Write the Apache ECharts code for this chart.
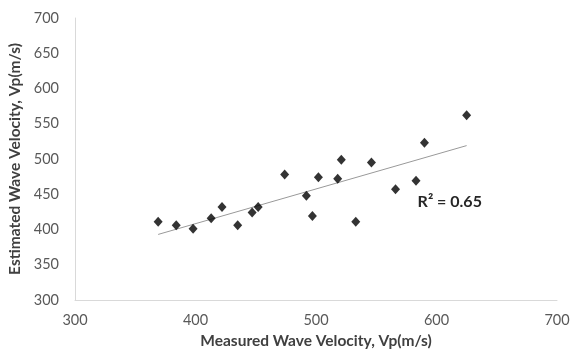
<!DOCTYPE html>
<html><head><meta charset="utf-8">
<script src="https://cdn.jsdelivr.net/npm/echarts@6/dist/echarts.min.js"></script>
<style>html,body{margin:0;padding:0;background:#fff}#c{width:576px;height:349px}</style>
</head><body><div id="c"></div>
<script>
const measured = [369, 384, 398, 413, 422, 435, 447, 452, 474, 492, 497, 502, 518, 521, 533, 546, 566, 583, 590, 625];
const estimated = [411, 406, 401, 416, 432, 406, 424, 432, 478, 448, 419, 474, 472, 499, 411, 495, 457, 469, 523, 562];
const trendX = [369, 625];
const trendY = [393, 519];
const xTicks = [300, 400, 500, 600, 700];
const yTicks = [300, 350, 400, 450, 500, 550, 600, 650, 700];
const r2Label = 'R² = 0.65';
const r2Pos = [611, 439];
const xTitle = 'Measured Wave Velocity, Vp(m/s)';
const yTitle = 'Estimated Wave Velocity, Vp(m/s)';

const chart = echarts.init(document.getElementById('c'), null, {renderer: 'canvas'});
const font = 'Lato, "Open Sans", sans-serif';
chart.setOption({
  animation: false,
  grid: {left: 75, right: 19, top: 18, bottom: 49, containLabel: false, outerBoundsMode: 'none'},
  xAxis: {
    type: 'value', min: xTicks[0], max: xTicks[xTicks.length-1], interval: 100,
    axisLine: {show: true, lineStyle: {color: '#d9d9d9', width: 1}},
    axisTick: {show: false}, splitLine: {show: false},
    axisLabel: {color: '#595959', fontSize: 14.5, fontFamily: font, margin: 13},
    name: xTitle, nameLocation: 'middle', nameGap: 32,
    nameTextStyle: {color: '#404040', fontSize: 15.5, fontWeight: 'bold', fontFamily: font}
  },
  yAxis: {
    type: 'value', min: yTicks[0], max: yTicks[yTicks.length-1], interval: 50,
    axisLine: {show: true, lineStyle: {color: '#d9d9d9', width: 1}},
    axisTick: {show: false}, splitLine: {show: false},
    axisLabel: {color: '#595959', fontSize: 14.5, fontFamily: font, margin: 16},
    name: yTitle, nameLocation: 'middle', nameGap: 45,
    nameTextStyle: {color: '#404040', fontSize: 15.5, fontWeight: 'bold', fontFamily: font}
  },
  series: [
    {
      type: 'line', data: trendX.map((x, i) => [x, trendY[i]]),
      symbol: 'none', lineStyle: {color: '#999999', width: 1}, z: 1,
      markPoint: {
        symbol: 'rect', symbolSize: 0, silent: true,
        data: [{coord: r2Pos, value: r2Label}],
        label: {show: true, formatter: r2Label, color: '#262626', fontSize: 16, fontWeight: 'bold', fontFamily: font, position: 'inside'}
      }
    },
    {
      type: 'scatter', data: measured.map((x, i) => [x, estimated[i]]),
      symbol: 'diamond', symbolSize: [9, 10], itemStyle: {color: '#000'}, z: 3
    }
  ]
});
</script></body></html>
